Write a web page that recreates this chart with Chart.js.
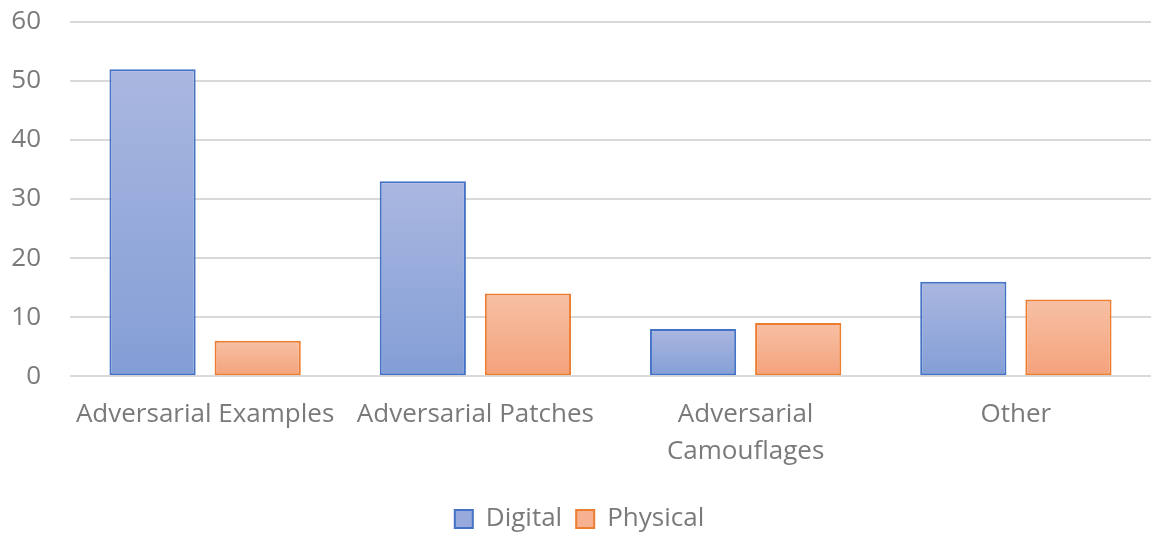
<!DOCTYPE html>
<html>
<head>
<meta charset="utf-8">
<script src="https://cdn.jsdelivr.net/npm/chart.js@4.4.1/dist/chart.umd.min.js"></script>
<style>
  html, body { margin: 0; padding: 0; background: #fff; }
  #wrap { width: 1153px; height: 534px; position: relative; }
</style>
</head>
<body>
<div id="wrap"><canvas id="myChart"></canvas></div>
<script>
var categories = [
  "Adversarial Examples",
  "Adversarial Patches",
  ["Adversarial", "Camouflages"],
  "Other"
];
var digital = [52, 33, 8, 16];
var physical = [6, 14, 9, 13];
var yMin = 0, yMax = 60, yStep = 10;

var textColor = '#7a7a7a';
var fontName = "'Open Sans', sans-serif";
var plotTop = 22;

// per bar vertical gradient, like the office look
function barGradient(top, bottom) {
  return function(context) {
    var chart = context.chart;
    var y = chart.scales.y;
    if (!chart.chartArea || !y || context.raw === undefined) return bottom;
    var y0 = y.getPixelForValue(context.raw);
    var y1 = y.getPixelForValue(0);
    if (!isFinite(y0) || !isFinite(y1) || y0 === y1) return bottom;
    var g = chart.ctx.createLinearGradient(0, y0, 0, y1);
    g.addColorStop(0, top);
    g.addColorStop(1, bottom);
    return g;
  };
}

// layout keeps some extra room on top, pull the plot area up
var topFix = {
  id: 'topFix',
  afterLayout: function(chart) {
    var a = chart.chartArea, y = chart.scales.y;
    a.top = plotTop;
    a.height = a.bottom - a.top;
    y.top = plotTop;
    y.height = y.bottom - y.top;
    y.configure();
  }
};

var ctx = document.getElementById('myChart');
var chart = new Chart(ctx, {
  type: 'bar',
  data: {
    labels: categories,
    datasets: [
      {
        label: 'Digital',
        data: digital,
        backgroundColor: barGradient('#aab7e0', '#839ed6'),
        borderColor: '#4472c4',
        borderWidth: 2,
        borderSkipped: false,
        categoryPercentage: 0.778,
        barPercentage: 0.82
      },
      {
        label: 'Physical',
        data: physical,
        backgroundColor: barGradient('#f7c0a4', '#f4a27b'),
        borderColor: '#ed7d31',
        borderWidth: 2,
        borderSkipped: false,
        categoryPercentage: 0.778,
        barPercentage: 0.82
      }
    ]
  },
  plugins: [topFix],
  options: {
    responsive: true,
    maintainAspectRatio: false,
    animation: false,
    layout: { autoPadding: false, padding: { left: 8, right: 2, top: plotTop, bottom: -8 } },
    scales: {
      x: {
        grid: { display: false },
        border: { display: false },
        afterFit: function(axis) { axis.height = axis.height + 10; },
        ticks: {
          color: textColor,
          font: { family: fontName, size: 26, lineHeight: 1.42 },
          padding: 12,
          maxRotation: 0,
          autoSkip: false
        }
      },
      y: {
        min: yMin,
        max: yMax,
        afterFit: function(axis) { axis.width = 62; },
        grid: { color: '#d9d9d9', lineWidth: 2, drawTicks: false },
        border: { display: false },
        ticks: {
          stepSize: yStep,
          color: textColor,
          font: { family: fontName, size: 26 },
          padding: 29
        }
      }
    },
    plugins: {
      tooltip: { enabled: false },
      legend: {
        position: 'bottom',
        labels: {
          color: textColor,
          font: { family: fontName, size: 26 },
          boxWidth: 18,
          boxHeight: 18,
          padding: 14,
          generateLabels: function(chart) {
            var items = Chart.defaults.plugins.legend.labels.generateLabels(chart);
            var fills = ['#97aadb', '#f5b190'];
            items.forEach(function(it, i) {
              it.fillStyle = fills[i];
              it.lineWidth = 2;
            });
            return items;
          }
        }
      }
    }
  }
});
</script>
</body>
</html>
